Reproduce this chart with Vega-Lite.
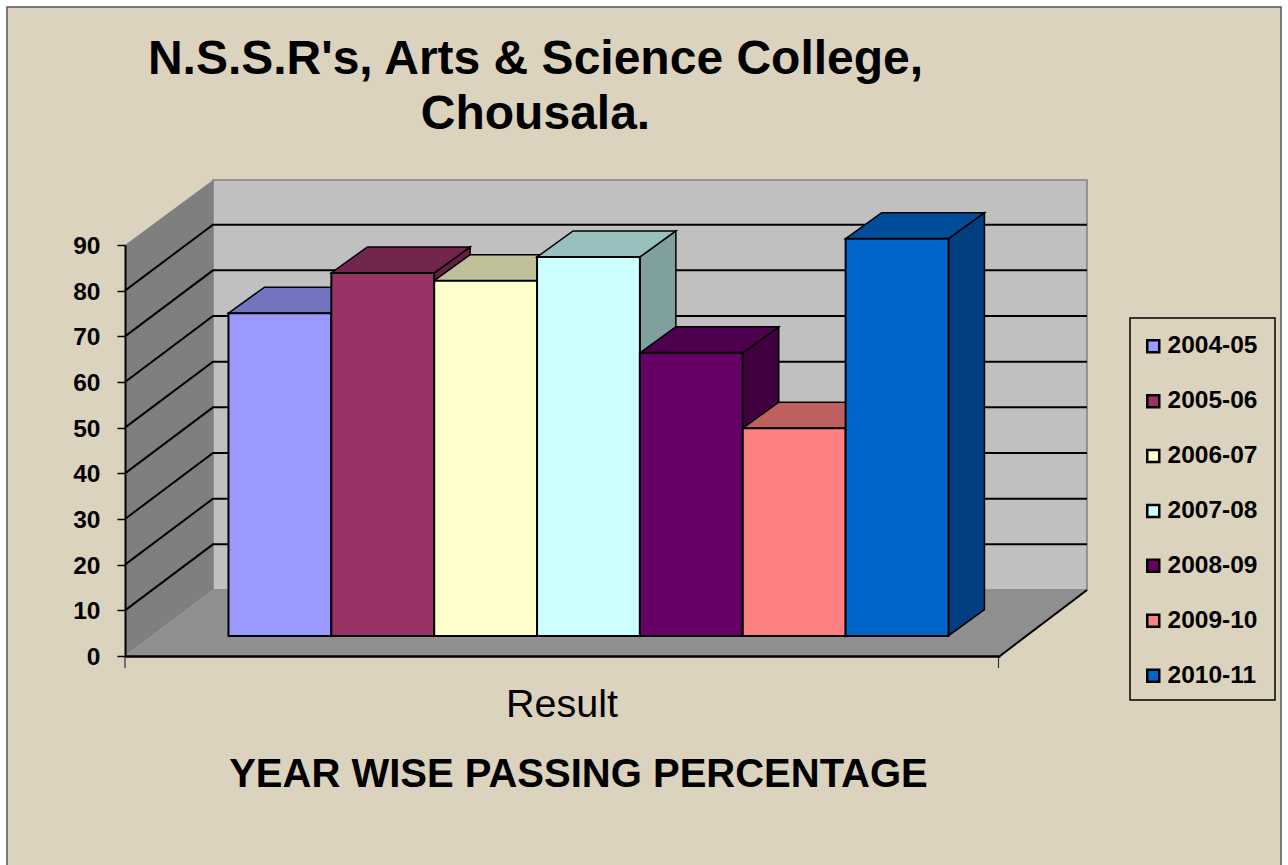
{
"$schema":"https://vega.github.io/schema/vega-lite/v6.json",
"width":875,"height":411,
"autosize":"none",
"padding":{"left":125,"top":245,"right":288,"bottom":209},
"background":"#ffffff",
"config":{"font":"Liberation Sans","view":{"stroke":null}},
"title":{"text":["N.S.S.R's, Arts & Science College,","Chousala."],"font":"Liberation Sans","fontSize":48,"fontWeight":"bold","color":"#000000","anchor":"middle","lineHeight":55,"dx":-27,"offset":0,"dy":135,"zindex":1},
"data":{"values":[
{"category":"Result","year":"2004-05","value":70.7},
{"category":"Result","year":"2005-06","value":79.5},
{"category":"Result","year":"2006-07","value":77.8},
{"category":"Result","year":"2007-08","value":83},
{"category":"Result","year":"2008-09","value":62},
{"category":"Result","year":"2009-10","value":45.5},
{"category":"Result","year":"2010-11","value":87}
]},
"resolve":{"scale":{"color":"independent","shape":"independent"}},
"layer":[
{"data":{"values":[{"category":"Result","part":"frame","value":0}]},
 "mark":{"type":"point","filled":true,"size":4,"opacity":1,"fill":"#dcd3bf","stroke":"#555555","strokeWidth":1.5,"shape":"M-555.5 -649 L718.5 -649 L718.5 215 L-555.5 215 Z"},
 "encoding":{"x":{"field":"category","type":"nominal"},"y":{"field":"value","type":"quantitative"}}},
{"data":{"values":[{"category":"Result","part":"legend box","value":0}]},
 "mark":{"type":"point","filled":false,"size":4,"opacity":1,"stroke":"#000000","strokeWidth":1.5,"shape":"M567.5 -338 L712.5 -338 L712.5 44 L567.5 44 Z"},
 "encoding":{"x":{"field":"category","type":"nominal"},"y":{"field":"value","type":"quantitative"}}},
{"data":{"values":[{"category":"Result","part":"back wall","value":0}]},
 "mark":{"type":"point","filled":true,"size":4,"opacity":1,"fill":"#c0c0c0","stroke":"#808080","strokeWidth":1.5,"shape":"M-349.5 -66 L524.5 -66 L524.5 -476 L-349.5 -476 Z"},
 "encoding":{"x":{"field":"category","type":"nominal"},"y":{"field":"value","type":"quantitative"}}},
{"data":{"values":[{"category":"Result","part":"side wall","value":0}]},
 "mark":{"type":"point","filled":true,"size":4,"opacity":1,"fill":"#7f7f7f","strokeWidth":0,"shape":"M-437.5 0 L-349.5 -66 L-349.5 -476 L-437.5 -411 Z"},
 "encoding":{"x":{"field":"category","type":"nominal"},"y":{"field":"value","type":"quantitative"}}},
{"data":{"values":[{"category":"Result","part":"floor","value":0}]},
 "mark":{"type":"point","filled":true,"size":4,"opacity":1,"fill":"#8f8f8f","strokeWidth":0,"shape":"M-437.5 0 L-349.5 -66 L524.5 -66 L437.5 0 Z"},
 "encoding":{"x":{"field":"category","type":"nominal"},"y":{"field":"value","type":"quantitative"}}},
{"data":{"values":[{"category":"Result","part":"floor edge","value":0}]},
 "mark":{"type":"point","filled":false,"size":4,"opacity":1,"stroke":"#000000","strokeWidth":2,"shape":"M437.5 0 L524.5 -66"},
 "encoding":{"x":{"field":"category","type":"nominal"},"y":{"field":"value","type":"quantitative"}}},
{"data":{"values":[{"category":"Result","part":"category ticks","value":0}]},
 "mark":{"type":"point","filled":false,"size":4,"opacity":1,"stroke":"#333333","strokeWidth":1.2,"shape":"M-437.5 0 L-437.5 12 M436 0 L436 12"},
 "encoding":{"x":{"field":"category","type":"nominal"},"y":{"field":"value","type":"quantitative"}}},
{"data":{"values":[
{"category":"Result","value":10},{"category":"Result","value":20},{"category":"Result","value":30},{"category":"Result","value":40},
{"category":"Result","value":50},{"category":"Result","value":60},{"category":"Result","value":70},{"category":"Result","value":80}]},
 "mark":{"type":"point","filled":false,"size":4,"opacity":1,"stroke":"#000000","strokeWidth":2,"shape":"M-437.5 0 L-349.5 -66 L524.5 -66"},
 "encoding":{"x":{"field":"category","type":"nominal"},"y":{"field":"value","type":"quantitative"}}},
{"mark":{"type":"point","filled":true,"size":4,"opacity":1,"stroke":"#000000","strokeWidth":1.5,"yOffset":-20},
 "encoding":{
  "x":{"field":"category","type":"nominal"},
  "xOffset":{"field":"year","type":"nominal","scale":{"range":[26,746]}},
  "y":{"field":"value","type":"quantitative"},
  "color":{"field":"year","type":"nominal","legend":null,"scale":{"range":["#606099","#602040","#A0A080","#80A0A0","#400040","#A05050","#004080"]}},
  "shape":{"field":"year","type":"nominal","legend":null,"scale":{"range":[
   "M51.4 0 L87.4 -26 L87.4 297 L51.4 323 Z",
   "M51.4 0 L87.4 -26 L87.4 337 L51.4 363 Z",
   "M51.4 0 L87.4 -26 L87.4 329 L51.4 355 Z",
   "M51.4 0 L87.4 -26 L87.4 353 L51.4 379 Z",
   "M51.4 0 L87.4 -26 L87.4 257 L51.4 283 Z",
   "M51.4 0 L87.4 -26 L87.4 182 L51.4 208 Z",
   "M51.4 0 L87.4 -26 L87.4 371 L51.4 397 Z"]}}
 }},
{"mark":{"type":"point","filled":true,"size":4,"opacity":1,"stroke":"#000000","strokeWidth":1.5,"yOffset":-20,"shape":"M-51.4 0 L-15.4 -26 L87.4 -26 L51.4 0 Z"},
 "encoding":{
  "x":{"field":"category","type":"nominal"},
  "xOffset":{"field":"year","type":"nominal"},
  "y":{"field":"value","type":"quantitative"},
  "color":{"field":"year","type":"nominal","legend":null,"scale":{"range":["#7373BF","#73264D","#BFBF99","#99BFBF","#4D004D","#BF6060","#004D99"]}}
 }},
{"mark":{"type":"bar","stroke":"#000000","strokeWidth":2,"yOffset":-20,"y2Offset":-20},
 "encoding":{
  "x":{"field":"category","type":"nominal","scale":{"type":"band","paddingInner":0,"paddingOuter":0.1076},
    "axis":{"title":"YEAR WISE PASSING PERCENTAGE","titleFontSize":40,"titleFontWeight":"bold","titleColor":"#000000","titleFont":"Liberation Sans","titlePadding":31,"titleX":453,
      "labelAngle":0,"labelFontSize":39.5,"labelFont":"Liberation Sans","labelColor":"#000000","labelPadding":48,"labelOffset":55.5,"ticks":false,"domainColor":"#000000","domainWidth":2.5,"zindex":1}},
  "xOffset":{"field":"year","type":"nominal"},
  "y":{"field":"value","type":"quantitative","scale":{"domain":[0,90],"nice":false},
    "axis":{"title":null,"values":[0,10,20,30,40,50,60,70,80,90],"grid":false,"labelFontSize":24.5,"labelFontWeight":"bold","labelFont":"Liberation Sans","labelColor":"#000000","labelPadding":17,"labelOffset":1.5,"tickSize":8,"tickColor":"#000000","tickWidth":1.5,"domainColor":"#000000","domainWidth":2,"zindex":1}},
  "color":{"field":"year","type":"nominal","scale":{"range":["#9999FF","#993366","#FFFFCC","#CCFFFF","#660066","#FF8080","#0066CC"]},
    "legend":{"title":null,"orient":"none","legendX":1005,"legendY":78,"symbolType":"square","symbolSize":144,"symbolStrokeWidth":2.5,"symbolStrokeColor":"#000000","labelFontSize":24.5,"labelFontWeight":"bold","labelFont":"Liberation Sans","labelColor":"#000000","rowPadding":29.9,"padding":11,"labelOffset":2}}
 }}
]}
